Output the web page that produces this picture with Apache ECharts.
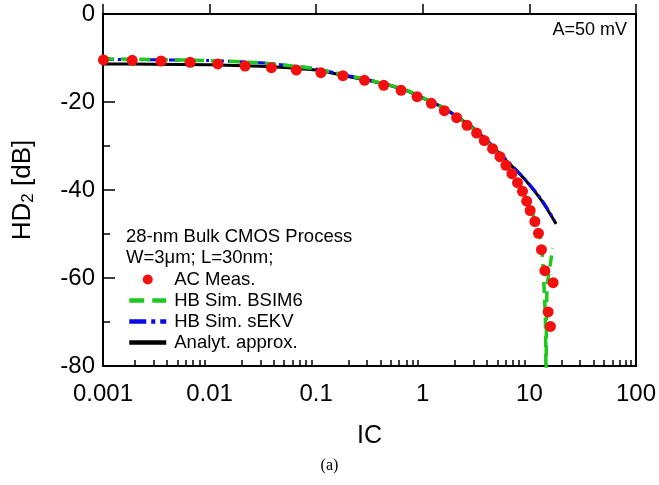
<!DOCTYPE html>
<html>
<head>
<meta charset="utf-8">
<script src="https://cdn.jsdelivr.net/npm/echarts@6/dist/echarts.min.js"></script>
<style>html,body{margin:0;padding:0;background:#fff;}#c{width:659px;height:485px;}</style>
</head>
<body>
<div id="c"></div>
<script>
// ---- data ----
var xTickValues = [0.001, 0.01, 0.1, 1, 10, 100];
var xTickLabels = ['0.001', '0.01', '0.1', '1', '10', '100'];
var xMinorTicks = [];
[0.001, 0.01, 0.1, 1, 10].forEach(function (d) {
  [2, 3, 4, 5, 6, 7, 8, 9].forEach(function (m) { xMinorTicks.push(+(d * m).toPrecision(3)); });
});
var yTickLabels = ['-80', '-60', '-40', '-20', '0'];

var icMeas = [0.00101, 0.00188, 0.00351, 0.00657, 0.01194, 0.0215, 0.038, 0.0651, 0.1107, 0.178, 0.284, 0.43, 0.626, 0.884, 1.204, 1.593, 2.077, 2.599, 3.197, 3.775, 4.513, 5.293, 6.026, 6.857, 7.738, 8.618, 9.434, 10.17, 11.26, 12.17, 12.98, 13.97, 16.7, 15.0, 15.76];
var hd2Meas = [-10.45, -10.52, -10.68, -10.98, -11.36, -11.82, -12.2, -12.73, -13.34, -14.02, -15.07, -16.2, -17.34, -18.8, -20.3, -21.98, -23.57, -25.3, -27.05, -28.75, -30.6, -32.43, -34.39, -36.3, -38.34, -40.3, -42.55, -44.66, -47.16, -49.84, -53.57, -58.34, -61.07, -67.7, -71.0];

var icBsim = [0.001, 0.003, 0.01, 0.03, 0.06, 0.1, 0.2, 0.4, 0.7, 1.0, 1.5, 2.0, 2.6, 3.2, 3.8, 4.5, 5.3, 6.0, 6.9, 7.7, 8.6, 9.4, 10.2, 11.3, 12.2, 13.0, 13.5, 13.8, 14.1, 14.25, 14.3, 14.32, 14.4, 14.6, 15.0, 15.6, 16.5];
var hd2Bsim = [-10.2, -10.35, -10.6, -11.1, -11.8, -12.5, -14.0, -15.6, -17.3, -19.0, -21.1, -23.2, -25.0, -26.8, -28.6, -30.4, -32.3, -34.1, -36.1, -38.1, -40.1, -42.2, -44.2, -46.9, -49.6, -52.5, -58.0, -63.5, -68.5, -76.0, -100, -100, -75.0, -63.0, -60.0, -57.4, -53.2];

var icEkv = [0.001, 0.003, 0.01, 0.03, 0.06, 0.1, 0.2, 0.4, 0.7, 1.0, 1.5, 2.0, 3.0, 4.2, 6.0, 7.5, 9.3, 12.4, 15.0, 17.2];
var hd2Ekv = [-10.3, -10.4, -10.6, -11.1, -11.8, -12.5, -14.0, -15.6, -17.4, -19.1, -21.1, -23.0, -26.0, -29.2, -33.0, -35.4, -37.8, -41.5, -44.5, -47.0];

var icAna = [0.001, 0.003, 0.01, 0.03, 0.06, 0.1, 0.2, 0.4, 0.7, 1.0, 1.5, 2.0, 3.0, 4.2, 6.0, 7.5, 9.3, 12.4, 15.0, 17.8];
var hd2Ana = [-11.36, -11.4, -11.55, -11.9, -12.3, -12.75, -14.2, -15.7, -17.4, -19.1, -21.1, -23.0, -26.0, -29.3, -33.2, -35.5, -37.9, -41.7, -44.7, -47.7];

function pairs(xs, ys) { return xs.map(function (x, i) { return [x, ys[i]]; }); }

var FONT = 'Liberation Sans, Arial, Helvetica, sans-serif';
var chart = echarts.init(document.getElementById('c'), null, { renderer: 'canvas' });
var hideSym = { opacity: 0 };

var option = {
  animation: false,
  backgroundColor: '#fff',
  grid: { left: 103, right: 22, top: 14, bottom: 119, show: true, borderColor: '#000', borderWidth: 2, backgroundColor: 'transparent' },
  legend: {
    orient: 'vertical', left: 127, top: 269, padding: 0,
    itemWidth: 37, itemHeight: 10, itemGap: 0,
    textStyle: { fontFamily: FONT, fontSize: 18.5, color: '#000', lineHeight: 21, padding: [0, 0, 0, 3] },
    data: [
      { name: 'AC Meas.' },
      { name: 'HB Sim. BSIM6', itemStyle: hideSym, lineStyle: { width: 4.5, type: [15, 8] } },
      { name: 'HB Sim. sEKV', itemStyle: hideSym, lineStyle: { width: 4.5, type: [17, 5, 4, 5] } },
      { name: 'Analyt. approx.', itemStyle: hideSym, lineStyle: { width: 4.5 } }
    ]
  },
  xAxis: [{
    type: 'log', logBase: 10, min: 0.001, max: 100, position: 'bottom',
    name: 'IC', nameLocation: 'middle', nameGap: 58,
    nameTextStyle: { fontFamily: FONT, fontSize: 25, color: '#000' },
    axisLine: { show: true, lineStyle: { color: '#000', width: 2 } },
    axisTick: { show: true, inside: true, length: 10, customValues: xTickValues, lineStyle: { color: '#000', width: 1.5 } },
    axisLabel: {
      show: true, margin: 16, customValues: xTickValues,
      fontFamily: FONT, fontSize: 24, color: '#000',
      formatter: function (v) {
        var best = 0, bd = 1e9;
        xTickValues.forEach(function (t, i) { var d = Math.abs(Math.log10(v) - Math.log10(t)); if (d < bd) { bd = d; best = i; } });
        return xTickLabels[best];
      }
    },
    splitLine: { show: false }
  }, {
    type: 'log', logBase: 10, min: 0.001, max: 100, position: 'bottom', gridIndex: 0,
    axisLine: { show: false },
    axisTick: { show: true, inside: true, length: 6, customValues: xMinorTicks, lineStyle: { color: '#000', width: 1.5 } },
    axisLabel: { show: false },
    splitLine: { show: false }
  }],
  yAxis: {
    type: 'value', min: -80, max: 0, interval: 20,
    name: '{a|HD}{b|2}{a| [dB]}', nameLocation: 'middle', nameGap: 66, nameRotate: 90,
    nameTextStyle: {
      rich: {
        a: { fontFamily: FONT, fontSize: 26, color: '#000' },
        b: { fontFamily: FONT, fontSize: 17, color: '#000', verticalAlign: 'bottom', padding: [12, 0, 0, 0] }
      }
    },
    axisLine: { show: true, lineStyle: { color: '#000', width: 2 } },
    axisTick: { show: true, inside: true, length: 12, lineStyle: { color: '#000', width: 1.5 } },
    minorTick: { show: true, splitNumber: 2, length: 7, lineStyle: { color: '#000', width: 1.5 } },
    axisLabel: {
      margin: 8, fontFamily: FONT, fontSize: 24, color: '#000',
      formatter: function (v) { return yTickLabels[Math.round((v + 80) / 20)]; }
    },
    splitLine: { show: false }
  },
  graphic: [
    { type: 'text', left: 126, top: 227, style: { text: '28-nm Bulk CMOS Process', font: '18.5px ' + FONT, fill: '#000' } },
    { type: 'text', left: 126, top: 248, style: { text: 'W=3μm; L=30nm;', font: '18.5px ' + FONT, fill: '#000' } },
    { type: 'text', right: 32, top: 21, style: { text: 'A=50 mV', font: '18px ' + FONT, fill: '#000' } },
    { type: 'text', left: 'center', top: 458, style: { text: '(a)', font: '16px Liberation Serif, Times New Roman, serif', fill: '#000' } }
  ],
  series: [
    {
      name: 'Analyt. approx.', type: 'line', data: pairs(icAna, hd2Ana), smooth: 0.3,
      symbol: 'none', lineStyle: { color: '#000', width: 3 }, itemStyle: { color: '#000' }, z: 2
    },
    {
      name: 'HB Sim. sEKV', type: 'line', data: pairs(icEkv, hd2Ekv), smooth: 0.3,
      symbol: 'none', lineStyle: { color: '#0a0ae6', width: 3, type: [11, 4, 3, 4] }, itemStyle: { color: '#0a0ae6' }, z: 3
    },
    {
      name: 'HB Sim. BSIM6', type: 'line', data: pairs(icBsim, hd2Bsim), smooth: 0.2,
      symbol: 'none', lineStyle: { color: '#1ec81e', width: 3.5, type: [11, 7] }, itemStyle: { color: '#1ec81e' }, z: 4
    },
    {
      name: 'AC Meas.', type: 'scatter', data: pairs(icMeas, hd2Meas),
      symbol: 'circle', symbolSize: 11, itemStyle: { color: '#f51010', opacity: 1 }, z: 5
    }
  ]
};
chart.setOption(option);
</script>
</body>
</html>
